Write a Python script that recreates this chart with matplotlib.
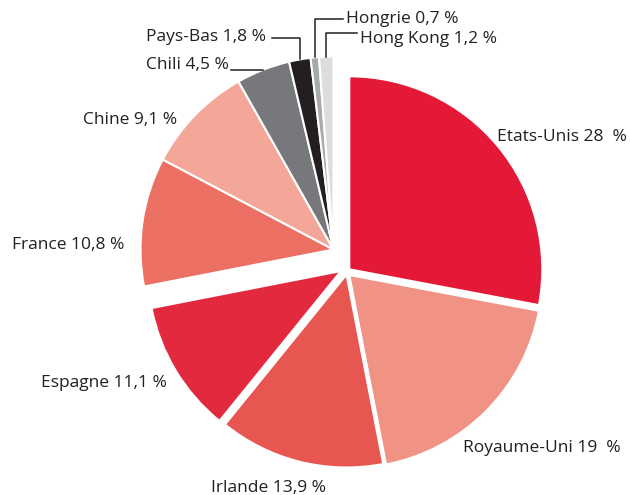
import numpy as np
import matplotlib.pyplot as plt

# Données (pourcentages)
pays = ["Etats-Unis", "Royaume-Uni", "Irlande", "Espagne", "France",
        "Chine", "Chili", "Pays-Bas", "Hongrie", "Hong Kong"]
parts = [28, 19, 13.9, 11.1, 10.8, 9.1, 4.5, 1.8, 0.7, 1.2]
etiquettes = ["Etats-Unis 28  %", "Royaume-Uni 19  %", "Irlande 13,9 %",
              "Espagne 11,1 %", "France 10,8 %", "Chine 9,1 %",
              "Chili 4,5 %", "Pays-Bas 1,8 %", "Hongrie 0,7 %",
              "Hong Kong 1,2 %"]

couleurs = ["#E31937", "#F09385", "#E85652", "#E3293E", "#EB6F63",
            "#F4A698", "#77787B", "#231F20", "#A7A9AC", "#DCDDDE"]

W, H = 630, 495
texte = "#231F20"

# centre du camembert (pixels, y vers le bas) et rayon
cx, cy, R = 346, 272, 193
# décalage de chaque part (pixels, y vers le haut)
decal = [(3.3, 2.7), (3.3, -3), (0.5, -2.5), (-5, 1)] + [(-12.5, 22.5)] * 6

# position des étiquettes : x, ligne de base (y vers le bas), alignement
pos_lab = [(497, 141, "left"), (463, 452, "left"), (211, 491.5, "left"),
           (41, 387, "left"), (12, 249, "left"), (83, 124, "left"),
           (228.5, 69, "right"), (266.5, 41, "right"),
           (346.5, 22.7, "left"), (360, 42.7, "left")]
# traits de rappel pour les petites parts : hauteur du trait, extrémité x
rappel = {6: (69.3, 231), 7: (38.3, 272), 8: (19.3, 343), 9: (33.3, 357)}

plt.rcParams['font.family'] = ['Open Sans', 'DejaVu Sans']

fig = plt.figure(figsize=(W / 100, H / 100), dpi=100)
ax = fig.add_axes([0, 0, 1, 1])

wedges, _ = ax.pie(parts, colors=couleurs, startangle=90, counterclock=False,
                   radius=R, center=(cx, H - cy),
                   wedgeprops=dict(edgecolor="white", linewidth=1.5))

for w, (dx, dy) in zip(wedges, decal):
    w.set_center((cx + dx, H - cy + dy))

for i, w in enumerate(wedges):
    x, yb, ha = pos_lab[i]
    ax.text(x, H - yb, etiquettes[i], ha=ha, va="baseline",
            fontsize=12.5, color=texte)
    if i in rappel:
        ly, xe = rappel[i]
        mid = np.radians((w.theta1 + w.theta2) / 2)
        px = w.center[0] + w.r * np.cos(mid)
        py = w.center[1] + w.r * np.sin(mid)
        if i == 6:
            ax.plot([px, xe], [py, py], color=texte, lw=1.1)
        else:
            ax.plot([px, px, xe], [py, H - ly, H - ly], color=texte, lw=1.1)

ax.set_xlim(0, W)
ax.set_ylim(0, H)
ax.set_aspect("equal")
ax.axis("off")

plt.savefig("out.png", dpi=100)
